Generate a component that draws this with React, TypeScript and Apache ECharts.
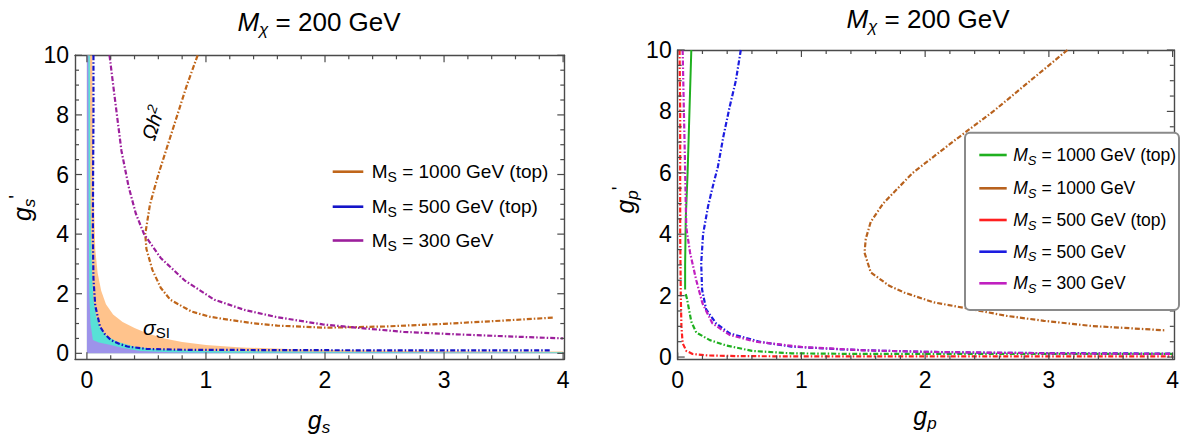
import React, { useEffect, useRef } from "react";
import * as echarts from "echarts";

// ---------- tick values ----------
const majorX = [0, 1, 2, 3, 4];
const majorY = [0, 2, 4, 6, 8, 10];
const minorX = Array.from({ length: 21 }, (_, i) => +(i * 0.2).toFixed(1)).filter((v) => !majorX.includes(v));
const minorY = Array.from({ length: 21 }, (_, i) => i * 0.5).filter((v) => !majorY.includes(v));

// ---------- left panel (g_s, g_s') ----------
const leftOrangeCloud = [
  [0, 10], [0.045, 10], [0.05, 7], [0.06, 5], [0.07, 3.5], [0.09, 2.7], [0.12, 2.1], [0.16, 1.65],
  [0.22, 1.3], [0.3, 1.05], [0.4, 0.85], [0.5, 0.68], [0.65, 0.5], [0.8, 0.38], [1.0, 0.28],
  [1.3, 0.2], [1.8, 0.13], [2.5, 0.09], [3.2, 0.07], [4, 0.06],
];
const leftCyanCloud = [
  [0, 10], [0.025, 10], [0.028, 6], [0.035, 4], [0.045, 2.5], [0.055, 1.8], [0.08, 1.2], [0.11, 0.85],
  [0.16, 0.6], [0.25, 0.4], [0.4, 0.22], [0.6, 0.13], [1, 0.08], [2, 0.05], [3, 0.04], [4, 0.04],
];
const leftVioletCloud = [
  [0, 10], [0.012, 10], [0.015, 5], [0.02, 2], [0.03, 1], [0.05, 0.45], [0.1, 0.36], [0.2, 0.28],
  [0.3, 0.18], [0.45, 0.08], [0.7, 0.04], [1.2, 0.02], [4, 0.015],
];
const leftMs1000Top = [
  [0.93, 10], [0.84, 9], [0.76, 8], [0.68, 7], [0.6, 6], [0.53, 5], [0.49, 4], [0.5, 3.5], [0.55, 2.8],
  [0.62, 2.2], [0.7, 1.8], [0.88, 1.4], [1.03, 1.23], [1.2, 1.12], [1.4, 1.01], [1.6, 0.93], [2.0, 0.86],
  [2.5, 0.9], [3.0, 0.99], [3.5, 1.1], [3.92, 1.2],
];
const leftMs500Top = [
  [0.055, 10], [0.055, 8], [0.052, 6], [0.05, 4], [0.055, 2.5], [0.07, 1.6], [0.11, 0.9], [0.15, 0.65],
  [0.2, 0.45], [0.27, 0.32], [0.34, 0.23], [0.5, 0.15], [0.8, 0.12], [1.5, 0.11], [2.5, 0.1], [3.9, 0.1],
];
const leftMs300 = [
  [0.19, 10], [0.23, 8.7], [0.29, 6.8], [0.35, 5.6], [0.41, 4.7], [0.48, 4.0], [0.62, 3.2], [0.82, 2.45],
  [1.07, 1.8], [1.33, 1.45], [1.59, 1.22], [1.98, 0.97], [2.27, 0.86], [2.66, 0.72], [3.15, 0.63],
  [3.53, 0.57], [4.0, 0.5],
];

// ---------- right panel (g_p, g_p') ----------
const rightMs1000TopUpper = [
  [0.11, 10], [0.095, 8], [0.08, 6], [0.065, 4.5], [0.06, 3], [0.06, 2.2],
];
const rightMs1000TopLower = [
  [0.065, 2.05], [0.075, 1.9], [0.11, 1.15], [0.15, 0.8], [0.26, 0.55], [0.39, 0.38], [0.6, 0.2],
  [0.92, 0.12], [1.5, 0.1], [2.5, 0.1], [4, 0.1],
];
const rightMs1000 = [
  [3.15, 10], [2.85, 9], [2.55, 8], [2.22, 7], [1.9, 6], [1.66, 5], [1.56, 4.4], [1.52, 3.85],
  [1.51, 3.4], [1.56, 2.76], [1.71, 2.32], [1.83, 2.1], [2.07, 1.78], [2.37, 1.56],
  [2.66, 1.34], [2.96, 1.18], [3.35, 1.01], [3.94, 0.87],
];
const rightMs500Top = [
  [0.015, 10], [0.02, 8], [0.02, 6], [0.02, 4], [0.025, 2], [0.03, 1], [0.04, 0.45], [0.07, 0.2],
  [0.12, 0.1], [0.25, 0.05], [0.5, 0.03], [1, 0.02], [2, 0.02], [3, 0.02], [4, 0.02],
];
const rightMs500 = [
  [0.51, 10], [0.47, 9], [0.42, 8.15], [0.37, 7.2], [0.325, 6.2], [0.28, 5.5], [0.245, 4.9], [0.205, 4.0],
  [0.19, 3.05], [0.197, 2.2], [0.23, 1.55], [0.31, 1.1], [0.42, 0.77], [0.66, 0.5], [0.92, 0.34],
  [1.32, 0.25], [1.6, 0.21], [2, 0.17], [2.5, 0.14], [3, 0.13], [3.5, 0.12], [4, 0.11],
];
const rightMs300 = [
  [0.04, 10], [0.05, 8], [0.058, 6.5], [0.065, 5], [0.07, 4.2], [0.1, 3.4], [0.15, 2.5], [0.2, 1.75],
  [0.28, 1.1], [0.42, 0.72], [0.63, 0.5], [1.0, 0.33], [1.5, 0.22], [2, 0.17], [3, 0.12], [4, 0.1],
];

const leftLegend = [
  { label: " = 1000 GeV (top)", color: "#c0661a" },
  { label: " = 500 GeV (top)", color: "#1414c8" },
  { label: " = 300 GeV", color: "#9c1f9c" },
];
const rightLegend = [
  { label: " = 1000 GeV (top)", color: "#1fb01f" },
  { label: " = 1000 GeV", color: "#b8621e" },
  { label: " = 500 GeV (top)", color: "#ff2020" },
  { label: " = 500 GeV", color: "#1c1ce0" },
  { label: " = 300 GeV", color: "#c020c0" },
];

const FONT = "'Liberation Sans', Arial, Helvetica, sans-serif";
const AXIS = "#4a4a4a";
const DASH = [5, 2, 1.5, 2];

function axesX(gridIndex: number, min: number, max: number) {
  const base = { type: "value", gridIndex, min, max, splitLine: { show: false }, axisTick: { show: false } };
  return [
    {
      ...base, position: "bottom",
      axisLine: { show: true, onZero: false, lineStyle: { color: AXIS, width: 1.4 } },
      axisLabel: { show: true, customValues: majorX, fontSize: 23, color: "#000", margin: 9, fontFamily: FONT },
    },
    { ...base, position: "top", axisLine: { show: true, onZero: false, lineStyle: { color: AXIS, width: 1.4 } }, axisLabel: { show: false } },
  ];
}
function axesY(gridIndex: number, min: number, max: number) {
  const base = { type: "value", gridIndex, min, max, splitLine: { show: false }, axisTick: { show: false } };
  return [
    {
      ...base, position: "left",
      axisLine: { show: true, onZero: false, lineStyle: { color: AXIS, width: 1.4 } },
      axisLabel: { show: true, customValues: majorY, fontSize: 23, color: "#000", margin: 6, fontFamily: FONT },
    },
    { ...base, position: "right", axisLine: { show: true, onZero: false, lineStyle: { color: AXIS, width: 1.4 } }, axisLabel: { show: false } },
  ];
}

// frame ticks (inside, on all four sides), positioned through the axes' own scales
function tickSeries(axisIndex: number, xMin: number, xMax: number, yMin: number, yMax: number) {
  const data = [
    ...majorX.map((v) => [v, 7, 0]),
    ...minorX.map((v) => [v, 4, 0]),
    ...majorY.map((v) => [v, 7, 1]),
    ...minorY.map((v) => [v, 4, 1]),
  ];
  return {
    type: "custom", xAxisIndex: axisIndex, yAxisIndex: axisIndex, data, silent: true, clip: false, z: 10,
    encode: { x: 0, y: 1 },
    renderItem: (_p: any, api: any) => {
      const v = api.value(0);
      const len = api.value(1);
      const kind = api.value(2);
      const style = { stroke: AXIS, lineWidth: 1.2 };
      if (kind === 0) {
        const b = api.coord([v, yMin]);
        const t = api.coord([v, yMax]);
        return {
          type: "group",
          children: [
            { type: "line", shape: { x1: b[0], y1: b[1], x2: b[0], y2: b[1] - len }, style },
            { type: "line", shape: { x1: t[0], y1: t[1], x2: t[0], y2: t[1] + len }, style },
          ],
        };
      }
      const l = api.coord([xMin, v]);
      const r = api.coord([xMax, v]);
      return {
        type: "group",
        children: [
          { type: "line", shape: { x1: l[0], y1: l[1], x2: l[0] + len, y2: l[1] }, style },
          { type: "line", shape: { x1: r[0], y1: r[1], x2: r[0] - len, y2: r[1] }, style },
        ],
      };
    },
  };
}

function curve(name: string, data: number[][], color: string, axisIndex: number, solid = false) {
  return {
    name, type: "line", xAxisIndex: axisIndex, yAxisIndex: axisIndex, data, symbol: "none", silent: true,
    lineStyle: { color, width: solid ? 2 : 2.2, type: solid ? "solid" : DASH }, z: 4,
  };
}
function cloud(name: string, data: number[][], color: string) {
  return {
    name, type: "line", xAxisIndex: 0, yAxisIndex: 0, data, symbol: "none", silent: true,
    lineStyle: { width: 0, color }, areaStyle: { color, opacity: 1, origin: "auto" }, z: 2,
  };
}

export default function App() {
  const ref = useRef<HTMLDivElement>(null);
  useEffect(() => {
    if (!ref.current) return;
    const chart = echarts.init(ref.current, undefined, { renderer: "svg" });

    const titleRich = {
      i: { fontFamily: FONT, fontSize: 26, fontStyle: "italic", color: "#000" },
      sub: { fontFamily: FONT, fontSize: 17, fontStyle: "italic", color: "#000", padding: [15, 0, 0, 0] },
      n: { fontFamily: FONT, fontSize: 26, color: "#000" },
    };
    const nameRich = {
      i: { fontFamily: FONT, fontSize: 25, fontStyle: "italic", color: "#000" },
      sub: { fontFamily: FONT, fontSize: 17, fontStyle: "italic", color: "#000", padding: [14, 0, 0, 0] },
      sup: { fontFamily: FONT, fontSize: 20, color: "#000", padding: [0, 0, 12, 0] },
    };
    const legRichRoman = {
      m: { fontFamily: FONT, fontSize: 19, color: "#000" },
      s: { fontFamily: FONT, fontSize: 14, color: "#000", padding: [10, 0, 0, 0] },
      t: { fontFamily: FONT, fontSize: 19, color: "#000" },
    };
    const legRichItalic = {
      m: { fontFamily: FONT, fontSize: 17.5, fontStyle: "italic", color: "#000" },
      s: { fontFamily: FONT, fontSize: 13, fontStyle: "italic", color: "#000", padding: [10, 0, 0, 0] },
      t: { fontFamily: FONT, fontSize: 17.5, color: "#000" },
    };

    const graphics: any[] = [
      { type: "text", x: 319, y: 22, z: 100, style: { text: "{i|M}{sub|χ}{n| = 200 GeV}", rich: titleRich, align: "center", verticalAlign: "middle" } },
      { type: "text", x: 928, y: 19, z: 100, style: { text: "{i|M}{sub|χ}{n| = 200 GeV}", rich: titleRich, align: "center", verticalAlign: "middle" } },
      { type: "text", x: 319, y: 420, z: 100, style: { text: "{i|g}{sub|s}", rich: nameRich, align: "center", verticalAlign: "middle" } },
      { type: "text", x: 925, y: 416, z: 100, style: { text: "{i|g}{sub|p}", rich: nameRich, align: "center", verticalAlign: "middle" } },
      { type: "text", x: 22, y: 208, rotation: Math.PI / 2, z: 100, style: { text: "{i|g}{sub|s}{sup|'}", rich: nameRich, align: "center", verticalAlign: "middle" } },
      { type: "text", x: 625, y: 200, rotation: Math.PI / 2, z: 100, style: { text: "{i|g}{sub|p}{sup|'}", rich: nameRich, align: "center", verticalAlign: "middle" } },
      {
        type: "text", x: 153, y: 123, rotation: (72 * Math.PI) / 180, z: 100,
        style: {
          text: "{i|Ωh}{sup|2}", align: "center", verticalAlign: "middle",
          rich: {
            i: { fontFamily: FONT, fontSize: 20, fontStyle: "italic", color: "#000" },
            sup: { fontFamily: FONT, fontSize: 14, fontStyle: "italic", color: "#000", padding: [0, 0, 11, 0] },
          },
        },
      },
      {
        type: "text", x: 143, y: 327, z: 100,
        style: {
          text: "{i|σ}{sub|SI}", align: "left", verticalAlign: "middle",
          rich: {
            i: { fontFamily: FONT, fontSize: 21, fontStyle: "italic", color: "#000" },
            sub: { fontFamily: FONT, fontSize: 15, color: "#000", padding: [10, 0, 0, 0] },
          },
        },
      },
      { type: "rect", z: 50, shape: { x: 965, y: 132.7, width: 214, height: 177.3, r: 5 }, style: { fill: "#fff", stroke: "#8a8a8a", lineWidth: 2 } },
    ];
    const lY = [171.7, 206.7, 240.5];
    leftLegend.forEach((it, k) => {
      graphics.push({ type: "line", z: 100, shape: { x1: 332.7, y1: lY[k], x2: 363.3, y2: lY[k] }, style: { stroke: it.color, lineWidth: 2.6 } });
      graphics.push({ type: "text", z: 100, x: 371.7, y: lY[k], style: { text: `{m|M}{s|S}{t|${it.label}}`, rich: legRichRoman, align: "left", verticalAlign: "middle" } });
    });
    const rY = [155, 188.3, 220, 251.7, 283.3];
    rightLegend.forEach((it, k) => {
      graphics.push({ type: "line", z: 100, shape: { x1: 979.3, y1: rY[k], x2: 1006.7, y2: rY[k] }, style: { stroke: it.color, lineWidth: 2.6 } });
      graphics.push({ type: "text", z: 100, x: 1013.3, y: rY[k], style: { text: `{m|M}{s|S}{t|${it.label}}`, rich: legRichItalic, align: "left", verticalAlign: "middle" } });
    });

    chart.setOption({
      animation: false,
      backgroundColor: "#fff",
      grid: [
        { left: 75, top: 55.3, width: 489.3, height: 304, containLabel: false },
        { left: 677.7, top: 50, width: 501.6, height: 309.5, containLabel: false },
      ],
      xAxis: [...axesX(0, -0.1, 4.01), ...axesX(1, 0, 4.01)],
      yAxis: [...axesY(0, -0.2, 10), ...axesY(1, -0.08, 10)],
      series: [
        cloud("orange scan", leftOrangeCloud, "rgba(255,184,120,0.85)"),
        cloud("cyan scan", leftCyanCloud, "rgba(70,228,222,0.9)"),
        cloud("violet scan", leftVioletCloud, "rgba(180,120,240,0.75)"),
        curve("MS = 1000 GeV (top)", leftMs1000Top, "#c0661a", 0),
        curve("MS = 500 GeV (top)", leftMs500Top, "#1414c8", 0),
        curve("MS = 300 GeV", leftMs300, "#9c1f9c", 0),
        curve("MS = 1000 GeV (top) upper", rightMs1000TopUpper, "#1fb01f", 2, true),
        curve("MS = 1000 GeV (top) lower", rightMs1000TopLower, "#1fb01f", 2),
        curve("MS = 1000 GeV", rightMs1000, "#b8621e", 2),
        curve("MS = 500 GeV (top) ", rightMs500Top, "#ff2020", 2),
        curve("MS = 500 GeV", rightMs500, "#1c1ce0", 2),
        curve("MS = 300 GeV ", rightMs300, "#c020c0", 2),
        tickSeries(0, -0.1, 4.01, -0.2, 10),
        tickSeries(2, 0, 4.01, -0.08, 10),
      ],
      graphic: { elements: graphics },
    });
    return () => chart.dispose();
  }, []);
  return <div ref={ref} style={{ position: "fixed", left: 0, top: 0, width: 1182, height: 435, background: "#fff" }} />;
}
